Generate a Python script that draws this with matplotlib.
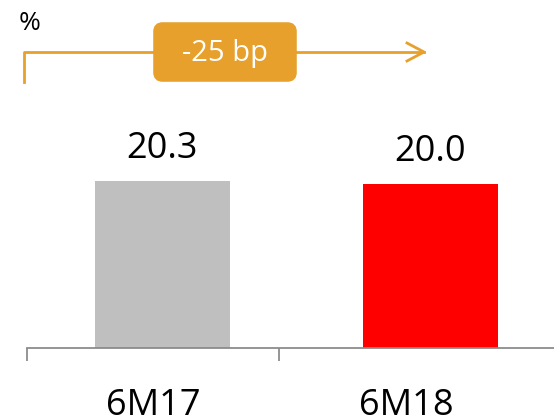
import matplotlib.pyplot as plt
from matplotlib.patches import FancyBboxPatch
from matplotlib.lines import Line2D

categories = ['6M17', '6M18']
values = [20.3, 20.0]
bar_colors = ['#BFBFBF', '#FF0000']
change_label = '-25 bp'
unit_label = '%'

W, H = 554, 419
plt.rcParams['font.family'] = ['Open Sans', 'DejaVu Sans']

fig = plt.figure(figsize=(W / 100, H / 100), dpi=100)
# axes spans the whole width; bottom edge sits on the category axis line
ax = fig.add_axes([0, (H - 348) / H, 1, 348 / H])
ax.set_xlim(-0.606, 1.461)
ax.set_ylim(0, 42.4)

x = range(len(categories))
ax.bar(x, values, width=0.504, color=bar_colors)
for xi, v in zip(x, values):
    ax.text(xi, v + 2.8, f'{v:.1f}', ha='center', va='baseline', fontsize=26)

for s in ['top', 'right', 'left']:
    ax.spines[s].set_visible(False)
ax.spines['bottom'].set_color('#8C8C8C')
ax.spines['bottom'].set_linewidth(1.3)
ax.spines['bottom'].set_bounds(-0.506, 1.461)
ax.set_yticks([])
ax.set_xticks([-0.506, 0.435])
ax.set_xticklabels([])
ax.tick_params(axis='x', direction='out', length=9.5, width=1.3, color='#8C8C8C')

# category labels centred between the tick marks
for pos, lab in zip([-0.035, 0.909], categories):
    ax.text(pos, -8.2, lab, ha='center', va='baseline', fontsize=26)


def fx(px):
    return px / W


def fy(py):
    return 1 - py / H


orange = '#E6A02B'
fig.text(fx(19), fy(23), unit_label, ha='left', va='center', fontsize=19)
fig.add_artist(Line2D([fx(24), fx(24), fx(424)], [fy(82), fy(52), fy(52)],
                      color=orange, lw=2))
fig.add_artist(Line2D([fx(407), fx(424), fx(407)], [fy(43), fy(52), fy(61)],
                      color=orange, lw=2))
box = FancyBboxPatch((fx(156), fy(79)), fx(138), fy(25) - fy(79),
                     boxstyle='round,pad=0,rounding_size=0.012',
                     transform=fig.transFigure, facecolor=orange,
                     edgecolor=orange, lw=4, mutation_aspect=W / H)
fig.add_artist(box)
fig.text(fx(225), fy(54), change_label, ha='center', va='center',
         fontsize=21, color='white')

fig.savefig('out.png', dpi=100)
